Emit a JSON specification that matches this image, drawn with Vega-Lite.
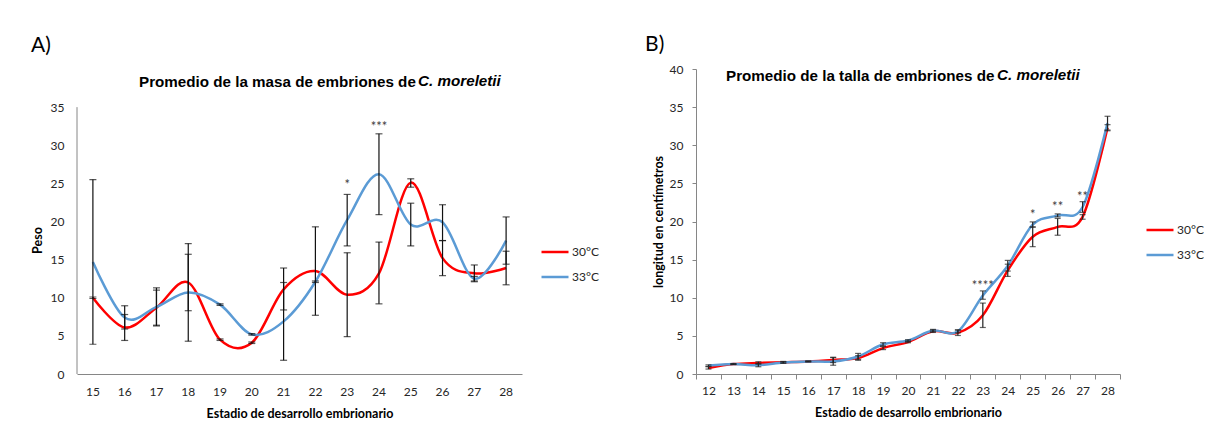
{
  "$schema": "https://vega.github.io/schema/vega-lite/v6.json",
  "padding": {"left": 31, "top": 34, "right": 0, "bottom": 0},
  "background": "white",
  "datasets": {
    "massA": [
      {"stage": 15, "temp": "30°C", "v": 10.0, "lo": 9.9, "hi": 10.1},
      {"stage": 16, "temp": "30°C", "v": 6.1, "lo": 4.4, "hi": 7.8},
      {"stage": 17, "temp": "30°C", "v": 8.7, "lo": 6.4, "hi": 11.0},
      {"stage": 18, "temp": "30°C", "v": 12.0, "lo": 8.3, "hi": 15.7},
      {"stage": 19, "temp": "30°C", "v": 4.5, "lo": 4.4, "hi": 4.6},
      {"stage": 20, "temp": "30°C", "v": 4.1, "lo": 4.0, "hi": 4.2},
      {"stage": 21, "temp": "30°C", "v": 11.1, "lo": 8.4, "hi": 13.9},
      {"stage": 22, "temp": "30°C", "v": 13.5, "lo": 7.7, "hi": 19.3},
      {"stage": 23, "temp": "30°C", "v": 10.4, "lo": 4.9, "hi": 15.9},
      {"stage": 24, "temp": "30°C", "v": 13.2, "lo": 9.2, "hi": 17.3},
      {"stage": 25, "temp": "30°C", "v": 25.1, "lo": 24.5, "hi": 25.6},
      {"stage": 26, "temp": "30°C", "v": 15.2, "lo": 12.9, "hi": 17.5},
      {"stage": 27, "temp": "30°C", "v": 13.2, "lo": 12.1, "hi": 14.3},
      {"stage": 28, "temp": "30°C", "v": 13.9, "lo": 11.7, "hi": 16.1},
      {"stage": 15, "temp": "33°C", "v": 14.7, "lo": 3.9, "hi": 25.5},
      {"stage": 16, "temp": "33°C", "v": 7.4, "lo": 5.9, "hi": 8.95},
      {"stage": 17, "temp": "33°C", "v": 8.8, "lo": 6.3, "hi": 11.3},
      {"stage": 18, "temp": "33°C", "v": 10.7, "lo": 4.3, "hi": 17.1},
      {"stage": 19, "temp": "33°C", "v": 9.1, "lo": 9.0, "hi": 9.2},
      {"stage": 20, "temp": "33°C", "v": 5.2, "lo": 5.1, "hi": 5.3},
      {"stage": 21, "temp": "33°C", "v": 6.9, "lo": 1.8, "hi": 12.0},
      {"stage": 22, "temp": "33°C", "v": 12.1, "lo": 12.0, "hi": 12.2},
      {"stage": 23, "temp": "33°C", "v": 20.2, "lo": 16.8, "hi": 23.55},
      {"stage": 24, "temp": "33°C", "v": 26.2, "lo": 20.9, "hi": 31.5},
      {"stage": 25, "temp": "33°C", "v": 19.6, "lo": 16.8, "hi": 22.4},
      {"stage": 26, "temp": "33°C", "v": 19.9, "lo": 17.5, "hi": 22.2},
      {"stage": 27, "temp": "33°C", "v": 12.5, "lo": 12.2, "hi": 12.8},
      {"stage": 28, "temp": "33°C", "v": 17.5, "lo": 14.4, "hi": 20.6}
    ],
    "starsA": [
      {"stage": 23, "y": 24.8, "label": "*"},
      {"stage": 24, "y": 32.4, "label": "***"}
    ],
    "sizeB": [
      {"stage": 12, "temp": "30°C", "v": 0.8, "lo": 0.65, "hi": 0.95},
      {"stage": 13, "temp": "30°C", "v": 1.3, "lo": 1.25, "hi": 1.35},
      {"stage": 14, "temp": "30°C", "v": 1.45, "lo": 1.3, "hi": 1.6},
      {"stage": 15, "temp": "30°C", "v": 1.55, "lo": 1.45, "hi": 1.65},
      {"stage": 16, "temp": "30°C", "v": 1.65, "lo": 1.6, "hi": 1.7},
      {"stage": 17, "temp": "30°C", "v": 1.85, "lo": 1.5, "hi": 2.2},
      {"stage": 18, "temp": "30°C", "v": 2.1, "lo": 1.8, "hi": 2.4},
      {"stage": 19, "temp": "30°C", "v": 3.4, "lo": 3.2, "hi": 3.6},
      {"stage": 20, "temp": "30°C", "v": 4.2, "lo": 4.1, "hi": 4.3},
      {"stage": 21, "temp": "30°C", "v": 5.6, "lo": 5.45, "hi": 5.75},
      {"stage": 22, "temp": "30°C", "v": 5.4, "lo": 5.05, "hi": 5.75},
      {"stage": 23, "temp": "30°C", "v": 7.7, "lo": 6.1, "hi": 9.3},
      {"stage": 24, "temp": "30°C", "v": 13.6, "lo": 12.8, "hi": 14.4},
      {"stage": 25, "temp": "30°C", "v": 18.0, "lo": 16.7, "hi": 19.3},
      {"stage": 26, "temp": "30°C", "v": 19.3, "lo": 18.2, "hi": 20.4},
      {"stage": 27, "temp": "30°C", "v": 20.6, "lo": 20.3, "hi": 20.9},
      {"stage": 28, "temp": "30°C", "v": 32.3, "lo": 31.9, "hi": 32.7},
      {"stage": 12, "temp": "33°C", "v": 1.1, "lo": 1.0, "hi": 1.2},
      {"stage": 13, "temp": "33°C", "v": 1.3, "lo": 1.25, "hi": 1.35},
      {"stage": 14, "temp": "33°C", "v": 1.15, "lo": 0.95, "hi": 1.35},
      {"stage": 15, "temp": "33°C", "v": 1.5, "lo": 1.4, "hi": 1.6},
      {"stage": 16, "temp": "33°C", "v": 1.65, "lo": 1.6, "hi": 1.7},
      {"stage": 17, "temp": "33°C", "v": 1.65, "lo": 1.15, "hi": 2.15},
      {"stage": 18, "temp": "33°C", "v": 2.3, "lo": 1.9, "hi": 2.7},
      {"stage": 19, "temp": "33°C", "v": 3.9, "lo": 3.7, "hi": 4.1},
      {"stage": 20, "temp": "33°C", "v": 4.4, "lo": 4.3, "hi": 4.5},
      {"stage": 21, "temp": "33°C", "v": 5.7, "lo": 5.55, "hi": 5.85},
      {"stage": 22, "temp": "33°C", "v": 5.6, "lo": 5.4, "hi": 5.8},
      {"stage": 23, "temp": "33°C", "v": 10.3, "lo": 9.8, "hi": 10.9},
      {"stage": 24, "temp": "33°C", "v": 14.2, "lo": 13.5, "hi": 14.9},
      {"stage": 25, "temp": "33°C", "v": 19.6, "lo": 19.25, "hi": 19.95},
      {"stage": 26, "temp": "33°C", "v": 20.8, "lo": 20.6, "hi": 21.0},
      {"stage": 27, "temp": "33°C", "v": 21.9, "lo": 21.2, "hi": 22.6},
      {"stage": 28, "temp": "33°C", "v": 32.9, "lo": 32.0, "hi": 33.8}
    ],
    "starsB": [
      {"stage": 23, "y": 11.5, "label": "****"},
      {"stage": 25, "y": 20.9, "label": "*"},
      {"stage": 26, "y": 21.9, "label": "**"},
      {"stage": 27, "y": 23.2, "label": "**"}
    ]
  },
  "spacing": 46,
  "resolve": {"scale": {"color": "independent"}, "legend": {"color": "independent"}},
  "hconcat": [
    {
      "title": {"text": "A)", "anchor": "start", "frame": "bounds", "font": "Lato", "fontSize": 21, "fontWeight": "normal", "color": "#000000", "offset": 13},
      "resolve": {"scale": {"color": "independent"}, "legend": {"color": "independent"}},
      "vconcat": [
        {
          "title": {"text": "C. moreletii", "anchor": "start", "frame": "bounds", "dx": 387, "dy": 20, "offset": 0, "font": "Liberation Sans", "fontSize": 15.2, "fontWeight": "bold", "fontStyle": "italic", "color": "#000000"},
          "resolve": {"scale": {"color": "independent"}, "legend": {"color": "independent"}},
          "vconcat": [
            {
              "width": 445,
              "height": 305,
              "title": {"text": "Promedio de la masa de embriones de", "anchor": "start", "frame": "group", "dx": 62, "offset": -21, "font": "Liberation Sans", "fontSize": 15.2, "fontWeight": "bold", "color": "#000000"},
              "data": {"name": "massA"},
              "encoding": {
                "x": {"field": "stage", "type": "ordinal", "scale": {"type": "band", "paddingInner": 0, "paddingOuter": 0},
                  "axis": {"title": "Estadio de desarrollo embrionario", "labelAngle": 0, "ticks": false, "labelPadding": 12, "titlePadding": 10}}
              },
              "layer": [
                {
                  "data": {"values": [{}]},
                  "mark": {"type": "rule", "color": "#868686", "strokeWidth": 1},
                  "encoding": {
                    "x": {"datum": 15, "type": "ordinal", "bandPosition": 0},
                    "y": {"datum": 0, "type": "quantitative", "title": "Peso", "scale": {"domain": [0, 40], "nice": false},
                      "axis": {"values": [0, 5, 10, 15, 20, 25, 30, 35], "domain": false, "ticks": false, "labelPadding": 13, "titlePadding": 6, "titleY": 171}},
                    "y2": {"datum": 35}
                  }
                },
                {
                  "mark": {"type": "line", "interpolate": "cardinal", "strokeWidth": 2.5},
                  "encoding": {
                    "y": {"field": "v", "type": "quantitative", "title": "Peso", "scale": {"domain": [0, 40], "nice": false},
                      "axis": {"values": [0, 5, 10, 15, 20, 25, 30, 35], "domain": false, "ticks": false, "labelPadding": 13, "titlePadding": 6, "titleY": 171}},
                    "color": {"field": "temp", "type": "nominal", "scale": {"domain": ["30°C", "33°C"], "range": ["#FF0000", "#5B9BD5"]},
                      "legend": {"title": null, "orient": "none", "legendX": 463, "legendY": 168, "symbolType": "stroke", "symbolSize": 729, "symbolStrokeWidth": 2.5, "labelOffset": 2, "rowPadding": 4, "padding": 0}}
                  }
                },
                {
                  "mark": {"type": "errorbar", "ticks": {"size": 7, "thickness": 1.2}, "rule": {"strokeWidth": 1.2}, "color": "#111111"},
                  "encoding": {
                    "y": {"field": "lo", "type": "quantitative", "title": "Peso",
                      "axis": {"values": [0, 5, 10, 15, 20, 25, 30, 35], "domain": false, "ticks": false, "labelPadding": 13, "titlePadding": 6, "titleY": 171}},
                    "y2": {"field": "hi"}
                  }
                },
                {
                  "data": {"name": "starsA"},
                  "mark": {"type": "text", "baseline": "middle", "align": "center", "font": "Lato", "fontSize": 13, "color": "#404040"},
                  "encoding": {
                    "y": {"field": "y", "type": "quantitative", "title": "Peso",
                      "axis": {"values": [0, 5, 10, 15, 20, 25, 30, 35], "domain": false, "ticks": false, "labelPadding": 13, "titlePadding": 6, "titleY": 171}},
                    "text": {"field": "label"}
                  }
                }
              ]
            }
          ]
        }
      ]
    },
    {
      "title": {"text": "B)", "anchor": "start", "frame": "bounds", "font": "Lato", "fontSize": 21, "fontWeight": "normal", "color": "#000000", "offset": 8, "dx": -7},
      "resolve": {"scale": {"color": "independent"}, "legend": {"color": "independent"}},
      "vconcat": [
        {
          "title": {"text": "C. moreletii", "anchor": "start", "frame": "bounds", "dx": 345, "dy": 20, "offset": 0, "font": "Liberation Sans", "fontSize": 15.2, "fontWeight": "bold", "fontStyle": "italic", "color": "#000000"},
          "resolve": {"scale": {"color": "independent"}, "legend": {"color": "independent"}},
          "vconcat": [
            {
              "width": 424,
              "height": 305,
              "title": {"text": "Promedio de la talla de embriones de", "anchor": "start", "frame": "group", "dx": 30, "offset": -21, "font": "Liberation Sans", "fontSize": 15.2, "fontWeight": "bold", "color": "#000000"},
              "data": {"name": "sizeB"},
              "encoding": {
                "x": {"field": "stage", "type": "ordinal", "scale": {"type": "band", "paddingInner": 0, "paddingOuter": 0},
                  "axis": {"title": "Estadio de desarrollo embrionario", "labelAngle": 0, "ticks": true, "tickBand": "extent", "tickSize": 5, "labelPadding": 6, "titlePadding": 10}}
              },
              "layer": [
                {
                  "mark": {"type": "line", "interpolate": "cardinal", "strokeWidth": 2.5},
                  "encoding": {
                    "y": {"field": "v", "type": "quantitative", "title": "longitud en centímetros", "scale": {"domain": [0, 40], "nice": false},
                      "axis": {"values": [0, 5, 10, 15, 20, 25, 30, 35, 40], "ticks": true, "tickSize": 4, "labelPadding": 9, "titlePadding": 4}},
                    "color": {"field": "temp", "type": "nominal", "scale": {"domain": ["30°C", "33°C"], "range": ["#FF0000", "#5B9BD5"]},
                      "legend": {"title": null, "orient": "none", "legendX": 449, "legendY": 146, "symbolType": "stroke", "symbolSize": 729, "symbolStrokeWidth": 2.5, "labelOffset": 2, "rowPadding": 4, "padding": 0}}
                  }
                },
                {
                  "mark": {"type": "errorbar", "ticks": {"size": 6, "thickness": 1.2}, "rule": {"strokeWidth": 1.2}, "color": "#222222"},
                  "encoding": {
                    "y": {"field": "lo", "type": "quantitative", "title": "longitud en centímetros",
                      "axis": {"values": [0, 5, 10, 15, 20, 25, 30, 35, 40], "ticks": true, "tickSize": 4, "labelPadding": 9, "titlePadding": 4}},
                    "y2": {"field": "hi"}
                  }
                },
                {
                  "data": {"name": "starsB"},
                  "mark": {"type": "text", "baseline": "middle", "align": "center", "font": "Lato", "fontSize": 13, "color": "#404040"},
                  "encoding": {
                    "y": {"field": "y", "type": "quantitative", "title": "longitud en centímetros",
                      "axis": {"values": [0, 5, 10, 15, 20, 25, 30, 35, 40], "ticks": true, "tickSize": 4, "labelPadding": 9, "titlePadding": 4}},
                    "text": {"field": "label"}
                  }
                }
              ]
            }
          ]
        }
      ]
    }
  ],
  "config": {
    "view": {"stroke": null},
    "font": "Lato",
    "axis": {"grid": false, "domainColor": "#868686", "domainWidth": 1, "tickColor": "#868686", "labelFont": "Lato", "labelFontSize": 12, "labelColor": "#262626", "titleFont": "Lato", "titleFontSize": 12.5, "titleFontWeight": "bold", "titleColor": "#000000"},
    "legend": {"labelFont": "Lato", "labelFontSize": 12, "labelColor": "#262626"}
  }
}
